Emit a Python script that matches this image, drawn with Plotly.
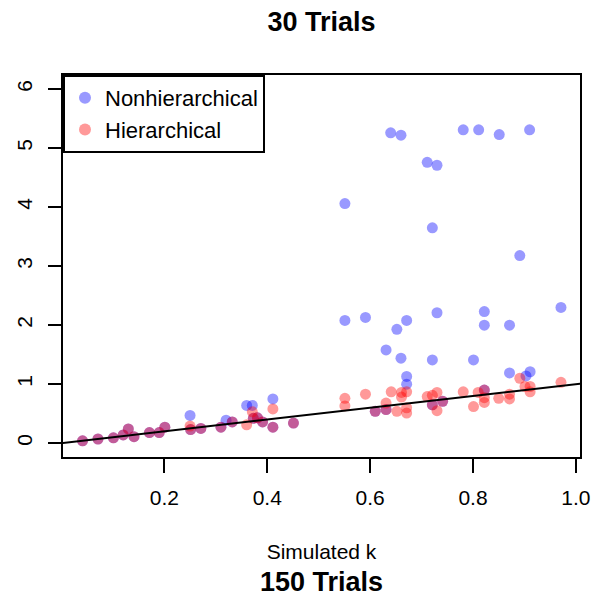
import plotly.graph_objects as go

# Nonhierarchical estimates (blue)
nonhier_k = [0.041, 0.071, 0.101, 0.120, 0.130, 0.141, 0.171, 0.190, 0.201, 0.250, 0.251,
             0.271, 0.310, 0.320, 0.332, 0.360, 0.371, 0.373, 0.381, 0.391, 0.411, 0.411, 0.451,
             0.551, 0.551, 0.591, 0.610, 0.631, 0.631, 0.640, 0.652, 0.660, 0.660,
             0.671, 0.671, 0.671, 0.711, 0.721, 0.721, 0.721, 0.730, 0.730, 0.741,
             0.781, 0.801, 0.811, 0.822, 0.822, 0.822, 0.851, 0.871, 0.871, 0.891,
             0.903, 0.910, 0.911, 0.971]
nonhier_est = [0.04, 0.07, 0.09, 0.14, 0.24, 0.11, 0.18, 0.18, 0.27, 0.47, 0.23,
               0.25, 0.27, 0.39, 0.36, 0.64, 0.64, 0.42, 0.43, 0.36, 0.75, 0.27, 0.34,
               4.06, 2.08, 2.13, 0.54, 1.58, 0.57, 5.26, 1.93, 5.22, 1.44,
               2.08, 1.13, 1.00, 4.76, 3.65, 1.41, 0.65, 4.71, 2.21, 0.71,
               5.31, 1.41, 5.31, 2.23, 2.00, 0.90, 5.23, 2.00, 1.19, 3.18,
               1.14, 5.31, 1.21, 2.30]

# Hierarchical estimates (red)
hier_k = [0.041, 0.071, 0.101, 0.120, 0.130, 0.141, 0.171, 0.190, 0.201, 0.250, 0.251,
          0.271, 0.310, 0.332, 0.360, 0.371, 0.373, 0.381, 0.391, 0.411, 0.411, 0.451,
          0.551, 0.551, 0.591, 0.610, 0.631, 0.631, 0.641, 0.652, 0.661, 0.661,
          0.671, 0.671, 0.671, 0.711, 0.721, 0.721, 0.730, 0.730, 0.741,
          0.781, 0.801, 0.810, 0.822, 0.822, 0.822, 0.850, 0.871, 0.871,
          0.891, 0.901, 0.911, 0.911, 0.971]
hier_est = [0.04, 0.07, 0.09, 0.14, 0.24, 0.11, 0.18, 0.18, 0.27, 0.29, 0.23,
            0.25, 0.27, 0.36, 0.31, 0.53, 0.42, 0.43, 0.36, 0.58, 0.27, 0.34,
            0.76, 0.63, 0.83, 0.54, 0.68, 0.57, 0.87, 0.54, 0.86, 0.78,
            0.87, 0.60, 0.51, 0.79, 0.81, 0.65, 0.86, 0.55, 0.71,
            0.87, 0.62, 0.86, 0.90, 0.77, 0.69, 0.76, 0.83, 0.75,
            1.10, 0.96, 0.96, 0.87, 1.03]

x_ticks = [0.2, 0.4, 0.6, 0.8, 1.0]
x_tick_labels = ["0.2", "0.4", "0.6", "0.8", "1.0"]
y_ticks = [0, 1, 2, 3, 4, 5, 6]
x_range = [0.003, 1.008]
y_range = [-0.235, 6.24]
ref_slope, ref_intercept = 1.0, 0.0

FONT = "Liberation Sans, Arial, Helvetica, sans-serif"

fig = go.Figure()
fig.add_trace(go.Scatter(
    x=nonhier_k, y=nonhier_est, mode="markers", name="Nonhierarchical",
    marker=dict(size=11, color="rgba(0,0,255,0.4)", line=dict(width=0)),
))
fig.add_trace(go.Scatter(
    x=hier_k, y=hier_est, mode="markers", name="Hierarchical",
    marker=dict(size=11, color="rgba(255,0,0,0.4)", line=dict(width=0)),
))
line_x = [x_range[0] - 0.05, x_range[1] + 0.05]
fig.add_trace(go.Scatter(
    x=line_x, y=[ref_intercept + ref_slope * v for v in line_x], mode="lines",
    line=dict(color="black", width=2), showlegend=False, hoverinfo="skip",
))

fig.update_layout(
    width=595, height=596,
    margin=dict(l=63, r=15, t=75, b=139, autoexpand=False),
    paper_bgcolor="white", plot_bgcolor="white",
    font=dict(family=FONT, size=21, color="black"),
    title=dict(text="<b>30 Trials</b>", x=0.5, xref="paper", xanchor="center",
               y=1 - 21.5 / 596, yref="container", yanchor="middle",
               font=dict(size=27, family=FONT, color="black")),
    legend=dict(x=0, y=1, xanchor="left", yanchor="top", xref="paper", yref="paper",
                bordercolor="black", borderwidth=2, bgcolor="white",
                font=dict(size=22, family=FONT), itemsizing="constant"),
    showlegend=True,
)
fig.update_xaxes(
    range=x_range, tickvals=x_ticks, ticktext=x_tick_labels, automargin=False,
    showline=True, mirror=True, linecolor="black", linewidth=2,
    ticks="outside", ticklen=14, tickwidth=2, tickcolor="black",
    ticklabelstandoff=7,
    showgrid=False, zeroline=False,
    title=dict(text="Simulated k", standoff=36, font=dict(size=21, family=FONT)),
)
fig.update_yaxes(
    range=y_range, tickvals=y_ticks, automargin=False,
    showline=True, mirror=True, linecolor="black", linewidth=2,
    ticks="outside", ticklen=13, tickwidth=2, tickcolor="black",
    tickangle=-90, ticklabelstandoff=8,
    showgrid=False, zeroline=False,
)
fig.add_annotation(text="<b>150 Trials</b>", xref="paper", yref="paper",
                   x=0.5, y=-(582 - 457) / 382, xanchor="center", yanchor="middle",
                   showarrow=False, font=dict(size=27, family=FONT, color="black"))

fig.write_html("out.html")
